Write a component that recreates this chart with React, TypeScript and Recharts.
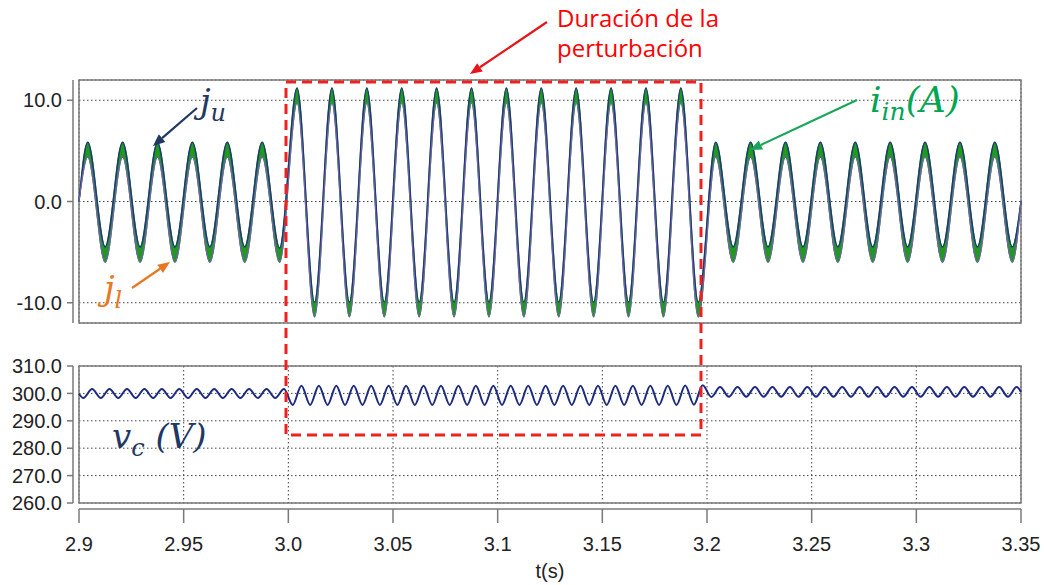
import React from 'react'
import { ComposedChart, Area, Line, XAxis, YAxis, CartesianGrid, ReferenceArea, Label } from 'recharts'

/* ── Perturbation test: arm currents j_u / j_l, input current i_in and capacitor voltage v_c ── */

const T_START = 2.9
const T_END = 3.35

// x axis
const xTicks = [2.9, 2.95, 3.0, 3.05, 3.1, 3.15, 3.2, 3.25, 3.3, 3.35]
const xTickLabels = ['2.9', '2.95', '3.0', '3.05', '3.1', '3.15', '3.2', '3.25', '3.3', '3.35']

// y axes
const currentTicks = [-10, 0, 10]
const voltageTicks = [260, 270, 280, 290, 300, 310]

// current extremes (A), one per half cycle of the 60 Hz grid, peak first
const juBefore = [5.85, -4.5, 5.85, -4.5, 5.8, -4.5, 5.85, -4.5, 5.85, -4.5, 5.85, -4.6]
const jlBefore = [4.4, -6.0, 4.4, -6.0, 4.4, -6.0, 4.4, -6.0, 4.4, -6.0, 4.4, -6.0]
const juDuring = [
  11.2, -9.95, 11.2, -9.95, 11.2, -9.95, 11.2, -9.95, 11.2, -9.95, 11.2, -9.95,
  11.2, -9.95, 11.2, -9.95, 11.2, -9.95, 11.2, -9.95, 11.2, -9.95, 11.2, -9.95,
]
const jlDuring = [
  9.75, -11.4, 9.75, -11.4, 9.75, -11.4, 9.75, -11.4, 9.75, -11.4, 9.75, -11.4,
  9.75, -11.4, 9.75, -11.4, 9.75, -11.4, 9.75, -11.4, 9.75, -11.4, 9.75, -11.4,
]
const juAfter = [5.85, -4.5, 5.85, -4.5, 5.85, -4.5, 5.85, -4.5, 5.85, -4.5, 5.85, -4.5, 5.85, -4.5, 5.85, -4.5, 5.85, -4.5]
const jlAfter = [4.4, -6.0, 4.4, -6.0, 4.4, -6.0, 4.4, -6.0, 4.4, -6.0, 4.4, -6.0, 4.4, -6.0, 4.4, -6.0, 4.4, -6.0]

// capacitor voltage extremes (V), one per half cycle of the 120 Hz ripple, trough first
const vcBefore = [
  298.3, 301.6, 298.3, 301.6, 298.3, 301.6, 298.3, 301.6, 298.3, 301.6, 298.3, 301.6,
  298.3, 301.6, 298.3, 301.6, 298.3, 301.6, 298.3, 301.6, 298.3, 301.6, 298.3, 301.6,
]
const vcDuring = [
  295.8, 302.8, 295.8, 302.8, 295.8, 302.8, 295.8, 302.8, 295.8, 302.8, 295.8, 302.8,
  295.8, 302.8, 295.8, 302.8, 295.8, 302.8, 295.8, 302.8, 295.8, 302.8, 295.8, 302.8,
  295.8, 302.8, 295.8, 302.8, 295.8, 302.8, 295.8, 302.8, 295.8, 302.8, 295.8, 302.8,
  295.8, 302.8, 295.8, 302.8, 295.8, 302.8, 295.8, 302.8, 295.8, 302.9, 295.9, 303.0,
]
const vcAfter = [
  298.7, 302.3, 298.8, 302.3, 298.8, 302.3, 298.8, 302.3, 298.8, 302.3, 298.8, 302.3,
  298.8, 302.3, 298.8, 302.3, 298.8, 302.3, 298.8, 302.3, 298.8, 302.3, 298.8, 302.3,
  298.8, 302.3, 298.8, 302.3, 298.8, 302.3, 298.8, 302.3, 298.8, 302.3, 298.8, 302.3,
]
const vcStart = 299.9
const vcEnd = 300.5

const CURRENT_HALF_PERIOD = 1 / 120
const RIPPLE_HALF_PERIOD = 1 / 240

const juExtremes = [...juBefore, ...juDuring, ...juAfter]
const jlExtremes = [...jlBefore, ...jlDuring, ...jlAfter]
const vcExtremes = [...vcBefore, ...vcDuring, ...vcAfter]

const currentData = [
  { t: T_START, ju: 0, jl: 0 },
  ...juExtremes.map((ju, i) => ({ t: T_START + (i + 0.5) * CURRENT_HALF_PERIOD, ju, jl: jlExtremes[i] })),
  { t: T_END, ju: 0, jl: 0 },
]

const voltageData = [
  { t: T_START, vc: vcStart },
  ...vcExtremes.map((vc, i) => ({ t: T_START + (i + 0.5) * RIPPLE_HALF_PERIOD, vc })),
  { t: T_END, vc: vcEnd },
]

const AXIS = '#7a7a7a'
const GRID = '#444'
const TICK_STYLE = { fill: '#222', fontSize: 20, fontFamily: 'Liberation Sans, Arial, sans-serif' }
const MATH_FONT = 'DejaVu Serif, serif'
const NOTE_FONT = 'Open Sans, sans-serif'

function Arrow({ x1, y1, x2, y2, color }: { x1: number; y1: number; x2: number; y2: number; color: string }) {
  const a = Math.atan2(y2 - y1, x2 - x1)
  const len = 12
  const half = 5
  const bx = x2 - len * Math.cos(a)
  const by = y2 - len * Math.sin(a)
  const px = -Math.sin(a) * half
  const py = Math.cos(a) * half
  return (
    <g>
      <line x1={x1} y1={y1} x2={bx} y2={by} stroke={color} strokeWidth={2.2} />
      <polygon points={`${x2},${y2} ${bx + px},${by + py} ${bx - px},${by - py}`} fill={color} />
    </g>
  )
}

export default function App() {
  return (
    <div style={{ position: 'absolute', left: 0, top: 0, width: 1044, height: 585, background: '#fff' }}>
      {/* currents */}
      <div style={{ position: 'absolute', left: 0, top: 0 }}>
        <ComposedChart width={1044} height={330} data={currentData} margin={{ top: 80, right: 23, bottom: 6, left: 0 }}>
          <CartesianGrid stroke={GRID} strokeDasharray="1.5 2.5" />
          <XAxis
            dataKey="t"
            type="number"
            domain={[T_START, T_END]}
            ticks={xTicks}
            tick={false}
            axisLine={false}
            tickLine={false}
            height={1}
          />
          <YAxis
            domain={[-12, 12]}
            ticks={currentTicks}
            interval={0}
            width={79}
            tickSize={6}
            tickMargin={11}
            tick={TICK_STYLE}
            tickFormatter={(v: number) => v.toFixed(1)}
            axisLine={{ stroke: AXIS, strokeWidth: 1.5, transform: 'translate(-6 0)' }}
            tickLine={{ stroke: AXIS, strokeWidth: 1.5, transform: 'translate(-6 0)' }}
          />
          <ReferenceArea x1={T_START} x2={T_END} y1={-12} y2={12} fill="none" stroke={AXIS} strokeWidth={1.5} />
          {/* i_in band between the two arm currents */}
          <Area
            dataKey={(d: { jl: number; ju: number }) => [d.jl, d.ju]}
            type="monotone"
            fill="#1f9a1f"
            fillOpacity={1}
            stroke="#1f9a1f"
            strokeWidth={1.2}
            isAnimationActive={false}
          />
          <Line dataKey="ju" type="monotone" stroke="#1f3b73" strokeWidth={1.5} dot={false} isAnimationActive={false} />
          <Line dataKey="jl" type="monotone" stroke="#7a5cb6" strokeWidth={1.1} dot={false} isAnimationActive={false} />
        </ComposedChart>
      </div>

      {/* capacitor voltage */}
      <div style={{ position: 'absolute', left: 0, top: 340 }}>
        <ComposedChart width={1044} height={245} data={voltageData} margin={{ top: 26, right: 23, bottom: 0, left: 0 }}>
          <CartesianGrid stroke={GRID} strokeDasharray="1.5 2.5" />
          <XAxis
            dataKey="t"
            type="number"
            domain={[T_START, T_END]}
            ticks={xTicks}
            interval={0}
            height={82}
            tickSize={14}
            tickMargin={20}
            tick={TICK_STYLE}
            tickFormatter={(_v: number, i: number) => xTickLabels[i]}
            axisLine={{ stroke: AXIS, strokeWidth: 1.5, transform: 'translate(0 6)' }}
            tickLine={{ stroke: AXIS, strokeWidth: 1.5, transform: 'translate(0 6)' }}
          >
            <Label value="t(s)" position="insideBottom" offset={7} style={TICK_STYLE} />
          </XAxis>
          <YAxis
            domain={[260, 310]}
            ticks={voltageTicks}
            interval={0}
            width={79}
            tickSize={6}
            tickMargin={11}
            tick={TICK_STYLE}
            tickFormatter={(v: number) => v.toFixed(1)}
            axisLine={{ stroke: AXIS, strokeWidth: 1.5, transform: 'translate(-6 0)' }}
            tickLine={{ stroke: AXIS, strokeWidth: 1.5, transform: 'translate(-6 0)' }}
          />
          <ReferenceArea x1={T_START} x2={T_END} y1={260} y2={310} fill="none" stroke={AXIS} strokeWidth={1.5} />
          <Line dataKey="vc" type="monotone" stroke="#1c2a80" strokeWidth={2} dot={false} isAnimationActive={false} />
        </ComposedChart>
      </div>

      {/* annotations */}
      <svg width={1044} height={585} style={{ position: 'absolute', left: 0, top: 0, pointerEvents: 'none' }}>
        <rect x={286} y={82} width={415} height={353} fill="none" stroke="#f02020" strokeWidth={3} strokeDasharray="10 6" />

        <text x={557} y={27} fill="#ff0000" fontSize={24} fontFamily={NOTE_FONT}>Duración de la</text>
        <text x={557} y={57} fill="#ff0000" fontSize={24} fontFamily={NOTE_FONT}>perturbación</text>
        <Arrow x1={547} y1={22} x2={470} y2={74} color="#e8141b" />

        <text x={200} y={113} fill="#1f3864" fontSize={34} fontStyle="italic" fontFamily={MATH_FONT}>
          j<tspan fontSize={24} dy={8}>u</tspan>
        </text>
        <Arrow x1={197} y1={108} x2={153} y2={146} color="#1f3864" />

        <text x={104} y={300} fill="#e87722" fontSize={34} fontStyle="italic" fontFamily={MATH_FONT}>
          j<tspan fontSize={24} dy={8}>l</tspan>
        </text>
        <Arrow x1={132} y1={288} x2={170} y2={262} color="#e87722" />

        <text x={870} y={112} fill="#00a651" fontSize={36} fontStyle="italic" fontFamily={MATH_FONT}>
          i<tspan fontSize={25} dy={8}>in</tspan>
          <tspan fontSize={36} dy={-8}>(A)</tspan>
        </text>
        <Arrow x1={857} y1={100} x2={750} y2={150} color="#17a657" />

        <text x={112} y={448} fill="#1f3864" fontSize={34} fontStyle="italic" fontFamily={MATH_FONT}>
          v<tspan fontSize={24} dy={8}>c</tspan>
          <tspan fontSize={34} dy={-8}> (V)</tspan>
        </text>
      </svg>
    </div>
  )
}
